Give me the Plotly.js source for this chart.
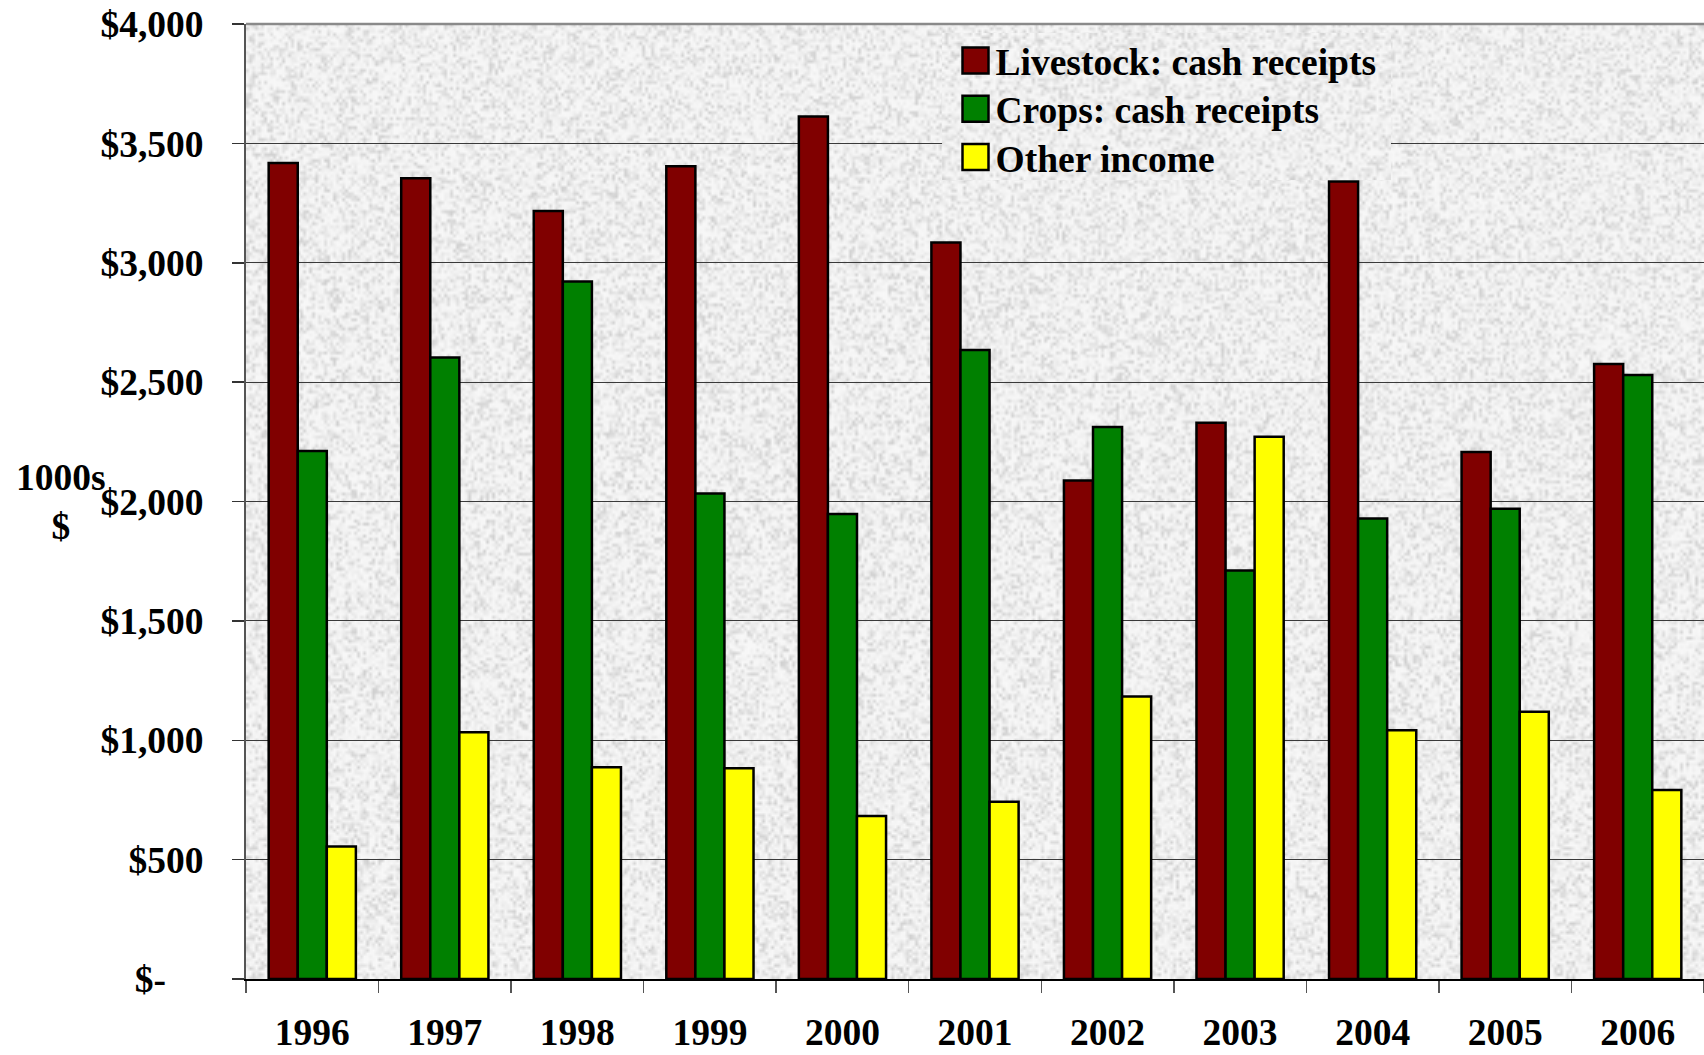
<!DOCTYPE html>
<html>
<head>
<meta charset="utf-8">
<script src="https://cdn.plot.ly/plotly-3.0.1.min.js"></script>
<style>
  html, body { margin: 0; padding: 0; background: #ffffff; }
  #chart { width: 1704px; height: 1055px; }
</style>
</head>
<body>
<div id="chart"></div>
<script>
// ---- Data (thousands of dollars) ----
const years = ["1996", "1997", "1998", "1999", "2000", "2001", "2002", "2003", "2004", "2005", "2006"];
const livestock = [3418, 3354, 3217, 3404, 3613, 3085, 2088, 2330, 3340, 2207, 2576];
const crops     = [2212, 2603, 2921, 2034, 1948, 2635, 2312, 1711, 1929, 1970, 2530];
const other     = [555, 1033, 887, 883, 683, 742, 1183, 2271, 1042, 1119, 792];

const seriesNames = ["Livestock: cash receipts", "Crops: cash receipts", "Other income"];
const seriesColors = ["#800000", "#008000", "#FFFF00"];

const yTickVals = [0, 500, 1000, 1500, 2000, 2500, 3000, 3500, 4000];
const yTickText = ["$-\u00a0\u00a0\u00a0\u00a0", "$500", "$1,000", "$1,500", "$2,000", "$2,500", "$3,000", "$3,500", "$4,000"];

const FONT = "Liberation Serif, Times New Roman, serif";
const FS = 37.5;
const BG = "#eaeaea";

// ---- decorative granite-like background texture (deterministic hash noise) ----
function hash2(x, y, s) {
  const v = Math.sin(x * 12.9898 + y * 78.233 + s * 37.719) * 43758.5453;
  return v - Math.floor(v);
}
function makeTexture(w, h, seed) {
  const c = document.createElement("canvas");
  c.width = w; c.height = h;
  const ctx = c.getContext("2d");
  const img = ctx.createImageData(w, h);
  for (let y = 0; y < h; y++) {
    for (let x = 0; x < w; x++) {
      const n = hash2(x, y, seed);
      const g = Math.round(248 - 34 * n * n * n - 6 * n);
      const i = (y * w + x) * 4;
      img.data[i] = g; img.data[i + 1] = g; img.data[i + 2] = g; img.data[i + 3] = 255;
    }
  }
  ctx.putImageData(img, 0, 0);
  return c.toDataURL("image/png");
}
const texMain = makeTexture(486, 318, 1);
const texLegend = makeTexture(150, 49, 7);

const traces = [livestock, crops, other].map((vals, i) => ({
  type: "bar",
  name: seriesNames[i],
  x: years,
  y: vals,
  marker: { color: seriesColors[i], line: { color: "#000000", width: 2.5 } },
  hoverinfo: "x+y+name"
}));

// legend panel region (paper coords)
const LG = { x0: 0.4774, x1: 0.7853, y0: 0.8366, y1: 0.9906 };

const layout = {
  width: 1704,
  height: 1055,
  paper_bgcolor: "#ffffff",
  plot_bgcolor: BG,
  margin: { l: 246, r: 0, t: 24, b: 76, pad: 0 },
  barmode: "group",
  bargap: 0.342,
  bargroupgap: 0,
  font: { family: FONT, size: FS, color: "#000000", weight: "bold" },
  showlegend: true,
  legend: {
    x: 0.487, y: 0.994, xanchor: "left", yanchor: "top",
    bgcolor: "rgba(0,0,0,0)", borderwidth: 0,
    font: { family: FONT, size: FS, color: "#000000", weight: "bold" },
    traceorder: "normal",
    tracegroupgap: 0,
    itemwidth: 30
  },
  xaxis: {
    type: "category",
    tickmode: "array",
    tickvals: years,
    ticktext: years,
    tickson: "boundaries",
    ticks: "outside",
    ticklen: 12,
    tickwidth: 1.5,
    tickcolor: "#555555",
    showline: true,
    linecolor: "#000000",
    linewidth: 2,
    showgrid: false,
    zeroline: false,
    tickfont: { family: FONT, size: FS, color: "#000000", weight: "bold" },
    ticklabelstandoff: 19,
    range: [-0.5, 10.5],
    fixedrange: true
  },
  yaxis: {
    range: [0, 4000],
    tickmode: "array",
    tickvals: yTickVals,
    ticktext: yTickText,
    ticks: "outside",
    ticklen: 12,
    tickwidth: 1.5,
    tickcolor: "#333333",
    showline: true,
    linecolor: "#555555",
    linewidth: 2,
    showgrid: true,
    gridcolor: "#3a3a3a",
    gridwidth: 1,
    zeroline: false,
    tickfont: { family: FONT, size: FS, color: "#000000", weight: "bold" },
    ticklabelstandoff: 21,
    fixedrange: true
  },
  images: [
    { source: texMain, xref: "paper", yref: "paper", x: 0, y: 1, sizex: 1, sizey: 1,
      xanchor: "left", yanchor: "top", sizing: "stretch", layer: "below" },
    { source: texLegend, xref: "paper", yref: "paper", x: LG.x0, y: LG.y1,
      sizex: LG.x1 - LG.x0, sizey: LG.y1 - LG.y0,
      xanchor: "left", yanchor: "top", sizing: "stretch", layer: "above" }
  ],
  shapes: [
    { type: "line", xref: "paper", yref: "paper", x0: 0, x1: 1, y0: 1, y1: 1,
      line: { color: "#8a8a8a", width: 2.5 } }
  ],
  annotations: [
    { xref: "paper", yref: "paper", x: -0.127, y: 0.5, xanchor: "center", yanchor: "middle",
      text: "1000s<br>$", showarrow: false, align: "center",
      font: { family: FONT, size: FS, color: "#000000", weight: "bold" } }
  ]
};

Plotly.newPlot("chart", traces, layout, { displayModeBar: false, staticPlot: true }).then(gd => {
  // enlarge legend swatches and place legend rows like the reference
  const targetX = 975.5, targetY0 = 60.5, rowStep = 48.2;
  const host = gd.getBoundingClientRect();
  gd.querySelectorAll(".legend .traces").forEach((t, i) => {
    const p = t.querySelector(".legendpoints path");
    if (!p) return;
    p.setAttribute("d", "M13,13H-13V-13H13Z");
    p.style.strokeWidth = "2.5px";
    const r = p.getBoundingClientRect();
    const cx = (r.left + r.right) / 2 - host.left;
    const cy = (r.top + r.bottom) / 2 - host.top;
    const m = /translate\(\s*([-\d.]+)[ ,]+([-\d.]+)\s*\)/.exec(t.getAttribute("transform") || "");
    const tx = m ? parseFloat(m[1]) : 0;
    const ty = m ? parseFloat(m[2]) : 0;
    t.setAttribute("transform", "translate(" + (tx + targetX - cx) + "," + (ty + targetY0 + i * rowStep - cy) + ")");
  });
});
</script>
</body>
</html>
